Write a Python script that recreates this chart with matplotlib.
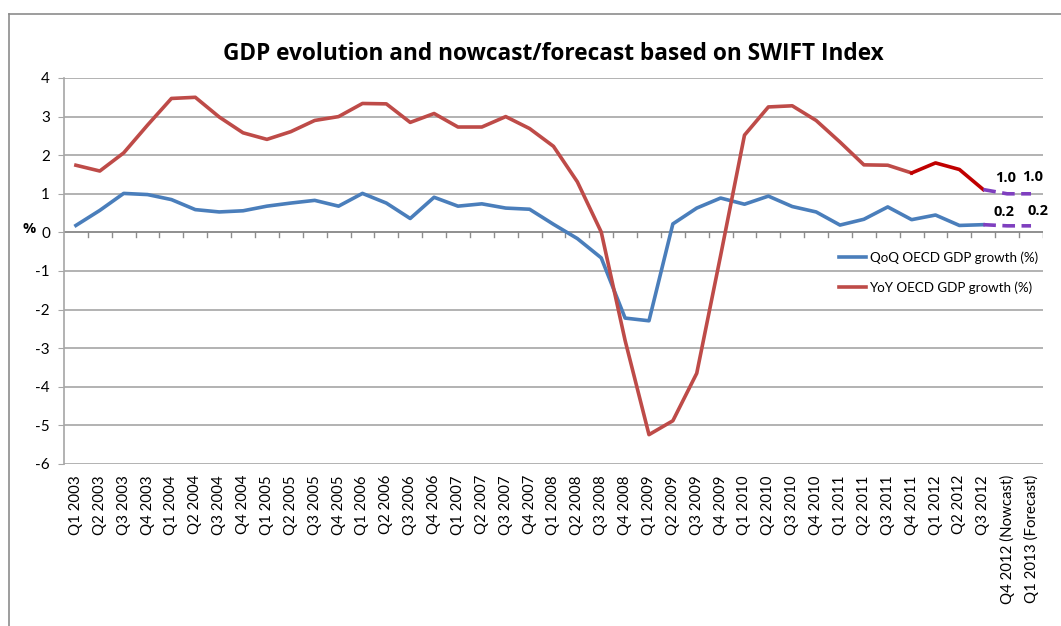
import matplotlib
matplotlib.use("Agg")
import matplotlib.pyplot as plt
from matplotlib.lines import Line2D
import numpy as np

plt.rcParams['font.family'] = ['Lato', 'DejaVu Sans']
plt.rcParams['axes.unicode_minus'] = False

# categories (quarters)
years = list(range(2003, 2013))
categories = [f"Q{q} {y}" for y in years for q in range(1, 5)][:39]
categories += ["Q4 2012 (Nowcast)", "Q1 2013 (Forecast)"]

# QoQ OECD GDP growth (%), Q1 2003 .. Q1 2013
qoq = [0.18, 0.57, 1.01, 0.98, 0.85, 0.59, 0.53, 0.56, 0.68, 0.76,
       0.83, 0.68, 1.01, 0.76, 0.36, 0.91, 0.68, 0.74, 0.63, 0.60,
       0.21, -0.16, -0.66, -2.22, -2.29, 0.22, 0.63, 0.89, 0.73, 0.94,
       0.67, 0.53, 0.19, 0.34, 0.66, 0.33, 0.45, 0.18, 0.20, 0.17, 0.17]

# YoY OECD GDP growth (%), Q1 2003 .. Q1 2013
yoy = [1.74, 1.59, 2.06, 2.78, 3.47, 3.50, 2.99, 2.58, 2.41, 2.61,
       2.90, 3.00, 3.34, 3.33, 2.85, 3.08, 2.73, 2.73, 3.00, 2.69,
       2.23, 1.31, 0.01, -2.80, -5.24, -4.88, -3.65, -0.60, 2.52, 3.25,
       3.28, 2.90, 2.34, 1.75, 1.74, 1.54, 1.80, 1.63, 1.11, 1.00, 1.00]

# value labels for nowcast / forecast points
qoq_labels = ["0.2", "0.2"]
yoy_labels = ["1.0", "1.0"]

x = np.arange(len(categories))
last_actual = 38   # Q3 2012
recent_start = 35  # Q4 2011

bold_font = ['Open Sans', 'DejaVu Sans']

fig = plt.figure(figsize=(10.61, 6.26), dpi=100)
ax = fig.add_axes([0.0603, 0.2588, 0.9227, 0.6166])

blue = "#4A7EBB"
red = "#BE4B48"
dark_red = "#C00000"
purple = "#7F3FBF"

ax.plot(x[:last_actual + 1], qoq[:last_actual + 1], color=blue, lw=2.6,
        label="QoQ OECD GDP growth (%)", zorder=3)
ax.plot(x[:recent_start + 1], yoy[:recent_start + 1], color=red, lw=2.6,
        label="YoY OECD GDP growth (%)", zorder=3)
ax.plot(x[recent_start:last_actual + 1], yoy[recent_start:last_actual + 1],
        color=dark_red, lw=2.6, zorder=3)
ax.plot(x[last_actual:], qoq[last_actual:], color=purple, lw=2.6,
        ls=(0, (3.5, 1.8)), zorder=3)
ax.plot(x[last_actual:], yoy[last_actual:], color=purple, lw=2.6,
        ls=(0, (3.5, 1.8)), zorder=3)

# data labels
label_offsets_yoy = [(-1, 6), (1, 7)]
label_offsets_qoq = [(-2, 5), (5, 6)]
for i in range(2):
    ax.annotate(yoy_labels[i], (x[last_actual + 1 + i], yoy[last_actual + 1 + i]),
                xytext=label_offsets_yoy[i], textcoords="offset points",
                ha="center", va="bottom", fontsize=10.5, fontweight="bold",
                family=bold_font)
    ax.annotate(qoq_labels[i], (x[last_actual + 1 + i], qoq[last_actual + 1 + i]),
                xytext=label_offsets_qoq[i], textcoords="offset points",
                ha="center", va="bottom", fontsize=10.5, fontweight="bold",
                family=bold_font)

ax.set_xlim(-0.5, len(categories) - 0.5)
ax.set_ylim(-6, 4)
ax.set_yticks(range(-6, 5))
ax.yaxis.grid(True, color="#A6A6A6", lw=1.2)
ax.set_axisbelow(True)

ax.set_xticks(x)
ax.set_xticklabels(categories, rotation=90, fontsize=10.8)
ax.tick_params(axis="x", length=0, pad=8)
ax.tick_params(axis="y", length=4, color="#A6A6A6", labelsize=11, pad=6)

for s in ["top", "right", "bottom"]:
    ax.spines[s].set_visible(False)
ax.spines["left"].set_color("#A6A6A6")
ax.spines["left"].set_linewidth(1.2)

# x axis at zero with category boundary ticks
ax.axhline(0, color="#8C8C8C", lw=1.2, zorder=2)
for b in np.arange(-0.5, len(categories), 1.0)[1:]:
    ax.plot([b, b], [0, -0.13], color="#8C8C8C", lw=1, zorder=2)

ax.set_ylabel("%", rotation=0, fontsize=10.5, fontweight="bold",
              family=bold_font, va="center")
ax.yaxis.set_label_coords(-0.036, 0.61)

ax.set_title("GDP evolution and nowcast/forecast based on SWIFT Index",
             fontsize=16.3, fontweight="bold", family=bold_font, pad=13)

ax.legend(loc="upper right", bbox_to_anchor=(1.0, 0.565), frameon=False,
          fontsize=9.6, handlelength=2.0, handletextpad=0.3, labelspacing=1.3,
          borderaxespad=0.0)

# chart area border (left and top edges visible)
fig.add_artist(Line2D([0.0085, 0.0085], [0, 0.977], color="#8C8C8C", lw=1.2))
fig.add_artist(Line2D([0.0085, 1.0], [0.977, 0.977], color="#8C8C8C", lw=1.2))

plt.savefig("out.png", dpi=100)
